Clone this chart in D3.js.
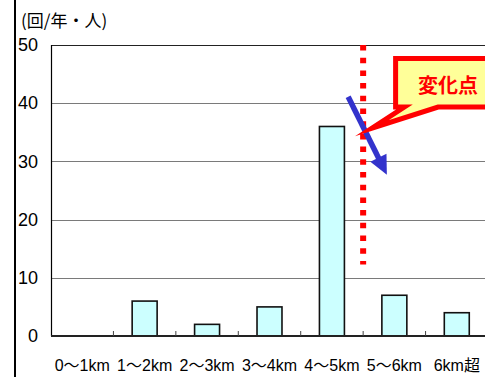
<!DOCTYPE html>
<html><head><meta charset="utf-8">
<script src="https://cdn.jsdelivr.net/npm/d3@7"></script>
<style>
html,body{margin:0;padding:0;background:#fff;overflow:hidden;}
svg{display:block;}
</style></head>
<body>
<script>
const categories = ["0〜1km","1〜2km","2〜3km","3〜4km","4〜5km","5〜6km","6km超"];
const values = [0, 6, 2, 5, 36, 7, 4];
const yTicks = [0, 10, 20, 30, 40, 50];
const unitLabel = "(回/年・人)";
const calloutText = "変化点";
const changeIndex = 5;      // boundary between 4〜5km and 5〜6km
const changeLineTo = 12.3;  // dotted line runs from top down to this value

(function(){
const W = 485, H = 377;
const svg = d3.select("body").append("svg").attr("width", W).attr("height", H);

const pLeft = 51, pRight = 488, pTop = 45, pBottom = 336;
const x = d3.scaleBand().domain(categories).range([pLeft, pRight]).paddingInner(0.6).paddingOuter(0.3);
const xi = d3.scaleLinear().domain([0, categories.length]).range([pLeft, pRight]);
const y = d3.scaleLinear().domain([0, 50]).range([pBottom, pTop]);

const numFont = "'Liberation Sans Narrow','Arial Narrow','Liberation Sans','Noto Sans CJK JP',sans-serif";

// outer frame line on the left
svg.append("line").attr("x1", 15).attr("x2", 15).attr("y1", 0).attr("y2", H)
  .attr("stroke", "#000").attr("stroke-width", 2);

// gridlines
svg.append("g").selectAll("line").data(yTicks.filter(d => d > 0 && d < 50)).join("line")
  .attr("x1", pLeft).attr("x2", W).attr("y1", d => Math.round(y(d)) + 0.5).attr("y2", d => Math.round(y(d)) + 0.5)
  .attr("stroke", "#7a7a7a").attr("stroke-width", 1);
// top line
svg.append("line").attr("x1", pLeft).attr("x2", W).attr("y1", y(50) + 0.5).attr("y2", y(50) + 0.5)
  .attr("stroke", "#222").attr("stroke-width", 1.2);

// y axis labels
const yAxis = d3.axisLeft(y).tickValues(yTicks).tickSize(0).tickPadding(13).tickFormat(d3.format("d"));
const gy = svg.append("g").attr("transform", `translate(${pLeft},0)`).call(yAxis);
gy.select(".domain").remove();
gy.selectAll("text").attr("font-family", numFont).attr("font-size", 18).attr("fill", "#000");
svg.append("line").attr("x1", pLeft + 0.5).attr("x2", pLeft + 0.5).attr("y1", pTop).attr("y2", pBottom)
  .attr("stroke", "#000").attr("stroke-width", 1.2);

// bars
svg.append("g").selectAll("rect").data(categories.map((c, i) => ({c, v: values[i]})).filter(d => d.v > 0)).join("rect")
  .attr("x", d => x(d.c)).attr("y", d => y(d.v)).attr("width", x.bandwidth()).attr("height", d => y(0) - y(d.v))
  .attr("fill", "#ccffff").attr("stroke", "#111").attr("stroke-width", 1.6);

// x axis baseline + boundary ticks
const xAxis = d3.axisBottom(x).tickSize(0).tickPadding(24);
const gx = svg.append("g").attr("transform", `translate(0,${pBottom})`).call(xAxis);
gx.select(".domain").remove();
gx.selectAll("text").attr("font-family", numFont).attr("font-size", 16).attr("fill", "#000");
svg.append("line").attr("x1", pLeft).attr("x2", W).attr("y1", pBottom).attr("y2", pBottom)
  .attr("stroke", "#222").attr("stroke-width", 2);
svg.append("g").selectAll("line").data(d3.range(1, categories.length)).join("line")
  .attr("x1", d => xi(d)).attr("x2", d => xi(d)).attr("y1", pBottom).attr("y2", pBottom - 5)
  .attr("stroke", "#444").attr("stroke-width", 1);

// unit label
svg.append("text").attr("x", 21).attr("y", 27).text(unitLabel)
  .attr("font-family", "'Liberation Sans Narrow','Noto Sans CJK JP',sans-serif").attr("font-size", 17).attr("fill", "#000");

// red dotted change line
svg.append("line").attr("x1", xi(changeIndex)).attr("x2", xi(changeIndex)).attr("y1", y(50)).attr("y2", y(changeLineTo))
  .attr("stroke", "#ff0000").attr("stroke-width", 6).attr("stroke-dasharray", "5.5 7.2");

// blue arrow
const a0 = [xi(4.76), y(41.1)], a1 = [xi(5.38), y(27.7)];
const ang = Math.atan2(a1[1] - a0[1], a1[0] - a0[0]);
const hl = 19, hw = 9;
const base = [a1[0] - hl * Math.cos(ang), a1[1] - hl * Math.sin(ang)];
svg.append("line").attr("x1", a0[0]).attr("y1", a0[1]).attr("x2", base[0] + 2 * Math.cos(ang)).attr("y2", base[1] + 2 * Math.sin(ang))
  .attr("stroke", "#3333cc").attr("stroke-width", 5.5);
svg.append("path").attr("d", d3.line()([
  a1,
  [base[0] - hw * Math.sin(ang), base[1] + hw * Math.cos(ang)],
  [base[0] + hw * Math.sin(ang), base[1] - hw * Math.cos(ang)]
]) + "Z").attr("fill", "#3333cc");

// callout
const bx0 = xi(5.48) + 2.5, bx1 = W + 20, by0 = y(48.1) + 2.5, by1 = y(38.9) - 2.5;
const tip = [xi(5.14), y(35.7)];
const callout = d3.path();
callout.moveTo(bx0, by0); callout.lineTo(bx1, by0); callout.lineTo(bx1, by1);
callout.lineTo(xi(6.2), by1); callout.lineTo(tip[0], tip[1]); callout.lineTo(xi(5.66), by1);
callout.lineTo(bx0, by1); callout.closePath();
svg.append("path").attr("d", callout.toString()).attr("fill", "#ffff99").attr("stroke", "#ff0000")
  .attr("stroke-width", 5).attr("stroke-linejoin", "miter").attr("stroke-miterlimit", 10);
svg.append("text").attr("x", 448).attr("y", 93).attr("text-anchor", "middle").text(calloutText)
  .attr("font-family", "'Noto Sans CJK JP',sans-serif").attr("font-weight", "bold").attr("font-size", 20).attr("fill", "#ff0000");
})();
</script>
</body></html>
